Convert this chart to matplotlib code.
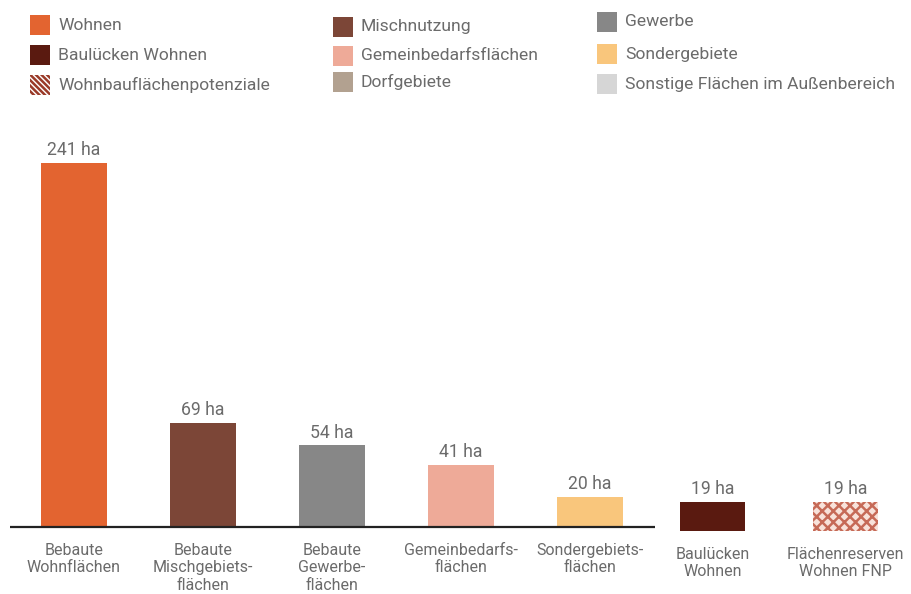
import matplotlib

matplotlib.use("Agg")
import matplotlib.pyplot as plt
from matplotlib.patches import Rectangle

plt.rcParams["font.family"] = ["Roboto", "DejaVu Sans"]
plt.rcParams["hatch.linewidth"] = 1.8

# bar data
categories = [
    "Bebaute\nWohnflächen",
    "Bebaute\nMischgebiets-\nflächen",
    "Bebaute\nGewerbe-\nflächen",
    "Gemeinbedarfs-\nflächen",
    "Sondergebiets-\nflächen",
    "Baulücken\nWohnen",
    "Flächenreserven\nWohnen FNP",
]
values = [241, 69, 54, 41, 20, 19, 19]
value_labels = ["241 ha", "69 ha", "54 ha", "41 ha", "20 ha", "19 ha", "19 ha"]
bar_colors = ["#e36430", "#7c4637", "#878787", "#eeaa98", "#f9c67c", "#5a1a10", "white"]

# legend entries (column by column)
legend_labels = [
    "Wohnen", "Baulücken Wohnen", "Wohnbauflächenpotenziale",
    "Mischnutzung", "Gemeinbedarfsflächen", "Dorfgebiete",
    "Gewerbe", "Sondergebiete", "Sonstige Flächen im Außenbereich",
]
legend_colors = [
    "#e36430", "#5a1a10", None,
    "#7c4637", "#eeaa98", "#b2a190",
    "#878787", "#f9c67c", "#d6d6d6",
]

TEXT = "#6b6b6b"
W, H = 911, 594

positions = [0, 1, 2, 3, 4, 4.95, 5.98]
bottoms = [0, 0, 0, 0, 0, -2.5, -2.5]

fig = plt.figure(figsize=(W / 100, H / 100), dpi=100)
ax = fig.add_axes([0, 67 / H, 1, 260 * 1.5104 / H])
ax.set_xlim(-74 / 129, (W - 74) / 129)
ax.set_ylim(0, 260)

for i, (x, v, b, c) in enumerate(zip(positions, values, bottoms, bar_colors)):
    if i == 6:
        ax.bar(x, v, width=0.5, bottom=b, color="#f8e2da", edgecolor="#c66a57",
               linewidth=0, hatch="xxx", clip_on=False)
    else:
        ax.bar(x, v, width=0.51, bottom=b, color=c, linewidth=0, clip_on=False)
    ax.text(x, v + b + 2.5, value_labels[i], ha="center", va="bottom",
            fontsize=12.7, color=TEXT)
    ax.text(x, b - 10.5, categories[i], ha="center", va="top", fontsize=11.5,
            color=TEXT, linespacing=1.2, clip_on=False)

# baseline only under the first five bars
ax.hlines(0, -0.5, 4.5, color="#222222", linewidth=1.6, clip_on=False)

for s in ax.spines.values():
    s.set_visible(False)
ax.set_xticks([])
ax.set_yticks([])

# custom legend in three columns
col_x = [30, 333, 597]
row_y = [[25, 55, 85], [27, 56, 82], [22, 54, 84]]
for k, (lab, col) in enumerate(zip(legend_labels, legend_colors)):
    ci, ri = divmod(k, 3)
    x0 = col_x[ci]
    yc = row_y[ci][ri]
    if col is None:
        patch = Rectangle((x0 / W, 1 - (yc + 10) / H), 20 / W, 20 / H,
                          transform=fig.transFigure, facecolor="white",
                          edgecolor="#9a3a28", linewidth=0, hatch="\\\\\\\\\\\\")
    else:
        patch = Rectangle((x0 / W, 1 - (yc + 10) / H), 20 / W, 20 / H,
                          transform=fig.transFigure, facecolor=col, linewidth=0)
    fig.add_artist(patch)
    fig.text((x0 + 28) / W, 1 - yc / H, lab, ha="left", va="center",
             fontsize=12.6, color=TEXT)

fig.savefig("out.png", dpi=100)
